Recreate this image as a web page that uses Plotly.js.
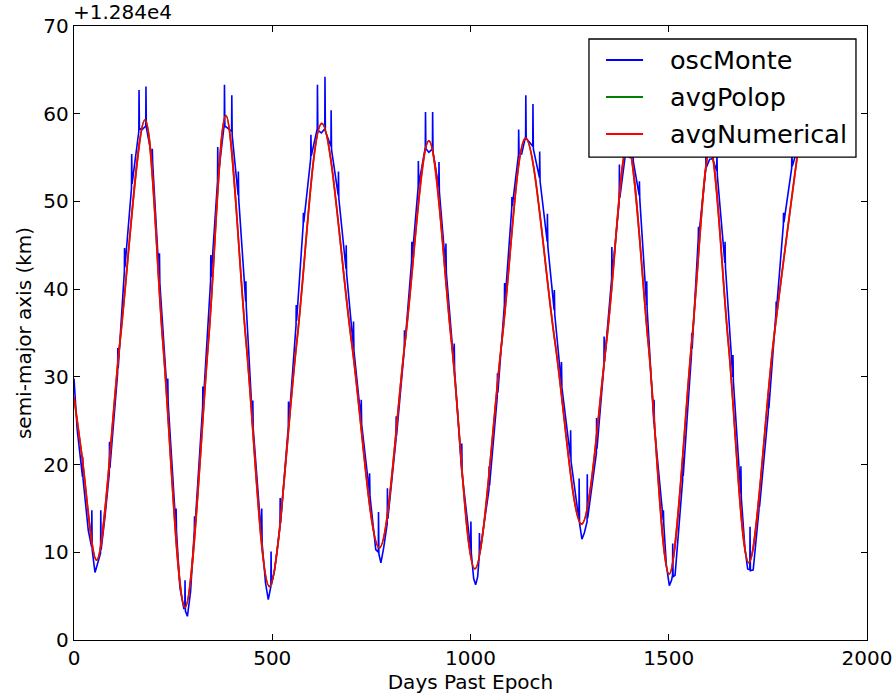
<!DOCTYPE html>
<html>
<head>
<meta charset="utf-8">
<script src="https://cdn.plot.ly/plotly-3.0.1.min.js"></script>
<style>
  html, body { margin: 0; padding: 0; background: #ffffff; }
  #chart { width: 895px; height: 696px; }
</style>
</head>
<body>
<div id="chart"></div>
<script>
// ---- Data (offset +1.284e4 km) ----
const seriesNames = ["oscMonte", "avgPolop", "avgNumerical"];
const seriesColors = ["#0000ff", "#008000", "#ff0000"];

// avgNumerical (red) key readings: day, value
const numericalDays = [0, 20, 57, 116, 179, 224, 280, 339, 383, 434, 493, 562, 625, 700, 770, 835, 895, 952, 1011, 1079, 1139, 1213, 1280, 1343, 1396, 1448, 1501, 1558, 1604, 1650, 1702, 1764, 1831];
const numericalVals = [27.7, 21.0, 9.1, 34.0, 59.3, 34.0, 3.7, 34.0, 59.8, 34.0, 6.1, 34.0, 58.9, 34.0, 10.5, 34.0, 56.9, 34.0, 8.1, 34.0, 57.2, 34.0, 13.2, 34.0, 56.5, 34.0, 7.5, 34.0, 56.0, 34.0, 8.8, 34.0, 57.5];

// avgPolop (green) readings – lies under the red curve
const polopDays = [0, 20, 57, 116, 179, 224, 280, 339, 383, 434, 493, 562, 625, 700, 770, 835, 895, 952, 1011, 1079, 1139, 1213, 1280, 1343, 1396, 1448, 1501, 1558, 1604, 1650, 1702, 1764, 1831];
const polopVals = [27.7, 21.0, 9.1, 34.0, 59.3, 34.0, 3.7, 34.0, 59.8, 34.0, 6.1, 34.0, 58.9, 34.0, 10.5, 34.0, 56.9, 34.0, 8.1, 34.0, 57.2, 34.0, 13.2, 34.0, 56.5, 34.0, 7.5, 34.0, 56.0, 34.0, 8.8, 34.0, 57.5];

// oscMonte (blue) readings: day, value
const monteDays = [
  0, 8, 21.5, 22, 23, 36, 44.5, 45, 46, 53, 61, 67, 67.5, 68.5, 78, 89, 89.5, 90.5,
  110, 110.5, 111.5, 127, 127.5, 128.5, 145, 145.5, 146.5, 163.5, 164, 165, 172,
  181, 181.5, 182.5, 197, 197.5, 198.5, 215, 215.5, 216.5, 236, 236.5, 237.5,
  257, 257.5, 258.5, 267, 277, 279.5, 280, 281, 286, 294, 303.5, 304, 305,
  324.5, 325, 326, 344.5, 345, 346, 362, 362.5, 363.5, 379, 379.5, 380.5, 389,
  397.5, 398, 399, 414, 414.5, 415.5, 433, 433.5, 434.5, 450.5, 451, 452,
  473, 473.5, 474.5, 483, 490, 496.5, 497, 498, 506, 519.5, 520, 521,
  540.5, 541, 542, 560, 560.5, 561.5, 578, 578.5, 579.5, 597, 597.5, 598.5,
  613.5, 614, 615, 624, 632.5, 633, 634, 648, 648.5, 649.5, 666.5, 667, 668,
  686, 686.5, 687.5, 704.5, 705, 706, 724, 724.5, 725.5, 745, 745.5, 746.5,
  761, 767.5, 768, 769, 774, 781, 790, 790.5, 791.5, 812, 812.5, 813.5,
  833, 833.5, 834.5, 851.5, 852, 853, 868, 868.5, 869.5, 886, 886.5, 887.5, 895,
  904, 904.5, 905.5, 920, 920.5, 921.5, 937.5, 938, 939, 958.5, 959, 960,
  977.5, 978, 979, 1000.5, 1001, 1002, 1008, 1013, 1018, 1022, 1022.5, 1023.5,
  1046.5, 1047, 1048, 1067.5, 1068, 1069, 1085.5, 1086, 1087, 1104, 1104.5, 1105.5,
  1121, 1121.5, 1122.5, 1129, 1139, 1139.5, 1140.5, 1157, 1157.5, 1158.5,
  1174, 1174.5, 1175.5, 1193.5, 1194, 1195, 1211, 1211.5, 1212.5, 1229, 1229.5, 1230.5,
  1252, 1252.5, 1253.5, 1273.5, 1274, 1275, 1281, 1287, 1294, 1294.5, 1295.5,
  1317.5, 1318, 1319, 1336.5, 1337, 1338, 1356, 1356.5, 1357.5, 1375, 1375.5, 1376.5,
  1392, 1392.5, 1393.5, 1401, 1409, 1409.5, 1410.5, 1425.5, 1426, 1427, 1444, 1444.5, 1445.5,
  1462.5, 1463, 1464, 1486, 1486.5, 1487.5, 1494, 1501.5, 1507, 1509.5, 1510, 1511, 1516,
  1535, 1535.5, 1536.5, 1557.5, 1558, 1559, 1574.5, 1575, 1576, 1593.5, 1594, 1595, 1603,
  1611, 1611.5, 1612.5, 1621, 1621.5, 1622.5, 1641.5, 1642, 1643, 1661.5, 1662, 1663,
  1681.5, 1682, 1683, 1692, 1699, 1704.5, 1705, 1706, 1713, 1720, 1727.5, 1728, 1729,
  1751, 1751.5, 1752.5, 1770.5, 1771, 1772, 1789, 1789.5, 1790.5, 1810, 1810.5, 1811.5, 1831
];
const monteVals = [
  29.8, 24.0, 18.6, 20.9, 18.3, 12.5, 10.6, 14.8, 10.2, 7.7, 9.1, 9.9, 14.8, 10.3, 14.0, 19.0, 22.6, 19.6,
  30.4, 33.3, 31.0, 42.0, 44.7, 42.5, 51.5, 55.4, 52.0, 58.0, 62.7, 58.3, 58.2,
  58.6, 63.1, 58.4, 54.9, 56.0, 54.3, 41.2, 44.1, 40.7, 27.4, 29.8, 27.0,
  12.9, 15.0, 12.4, 6.0, 3.6, 3.6, 6.8, 3.3, 2.7, 5.5, 12.5, 14.1, 12.8,
  26.6, 28.9, 27.0, 40.9, 43.9, 41.4, 52.3, 56.2, 52.8, 58.8, 63.3, 58.6, 58.3,
  58.0, 62.1, 57.5, 50.7, 53.4, 50.2, 38.6, 40.9, 38.0, 24.7, 27.3, 24.1,
  11.6, 15.0, 11.0, 6.5, 4.6, 6.1, 10.1, 6.3, 8.0, 12.9, 16.2, 13.3,
  24.3, 27.2, 24.8, 35.9, 38.2, 36.4, 47.3, 48.7, 47.6, 54.9, 57.6, 55.2,
  58.3, 63.3, 58.1, 57.8, 58.3, 64.2, 58.0, 56.3, 60.4, 55.9, 50.7, 53.4, 50.3,
  42.3, 45.0, 41.8, 33.5, 36.3, 33.0, 25.1, 27.4, 24.6, 16.9, 19.0, 16.4,
  10.3, 10.0, 14.6, 9.8, 8.8, 10.5, 13.3, 17.3, 13.8, 22.8, 25.5, 23.3,
  33.1, 35.3, 33.6, 43.2, 45.4, 43.6, 51.6, 54.6, 51.9, 56.2, 60.2, 56.0, 55.6,
  56.0, 60.2, 55.6, 51.6, 54.5, 51.1, 42.4, 45.2, 41.9, 31.2, 33.8, 30.7,
  19.4, 22.4, 18.9, 10.3, 13.5, 9.9, 7.0, 6.3, 7.2, 9.5, 12.2, 9.9,
  17.1, 19.8, 17.6, 27.7, 30.4, 28.2, 38.2, 40.7, 38.6, 49.2, 50.5, 49.5,
  55.3, 58.2, 55.5, 55.4, 57.4, 62.1, 57.2, 56.3, 61.1, 56.0,
  52.7, 55.7, 52.3, 45.4, 48.6, 44.9, 37.6, 39.9, 37.1, 29.3, 31.7, 28.8,
  20.9, 23.9, 20.4, 13.7, 18.4, 13.3, 11.5, 12.2, 13.5, 18.9, 13.9,
  21.3, 25.3, 21.8, 31.2, 34.6, 31.7, 41.2, 44.8, 41.6, 50.0, 54.2, 50.4,
  55.8, 60.5, 55.6, 55.0, 55.0, 59.5, 54.6, 50.7, 52.3, 50.2, 38.2, 40.9, 37.7,
  24.7, 27.4, 24.2, 13.7, 14.8, 13.2, 8.5, 6.2, 6.8, 7.4, 11.0, 7.2, 7.4,
  18.2, 20.9, 18.7, 32.7, 35.0, 33.2, 45.8, 47.1, 46.1, 53.8, 58.5, 53.9, 54.8,
  54.9, 59.0, 54.6, 53.5, 55.5, 53.0, 43.0, 45.4, 42.5, 30.0, 32.5, 29.5,
  16.7, 19.8, 16.2, 10.5, 8.1, 8.0, 12.9, 7.9, 8.0, 11.0, 14.8, 16.3, 15.2,
  25.9, 28.1, 26.4, 37.4, 38.6, 37.8, 47.3, 48.7, 47.6, 53.8, 56.0, 54.0, 57.0
];

// Axis ticks
const xTickVals = [0, 500, 1000, 1500, 2000];
const yTickVals = [0, 10, 20, 30, 40, 50, 60, 70];
const offsetLabel = "+1.284e4";

const traces = [
  { x: monteDays, y: monteVals, name: seriesNames[0], type: "scatter", mode: "lines",
    line: { color: seriesColors[0], width: 1.6, shape: "linear" } },
  { x: polopDays, y: polopVals, name: seriesNames[1], type: "scatter", mode: "lines",
    line: { color: seriesColors[1], width: 1.6, shape: "spline", smoothing: 1 } },
  { x: numericalDays, y: numericalVals, name: seriesNames[2], type: "scatter", mode: "lines",
    line: { color: seriesColors[2], width: 1.8, shape: "spline", smoothing: 1 } }
];

// Legend box drawn in the matplotlib style (paper coordinates)
const legBox = { x0: 0.6494, x1: 0.9861, y0: 0.7866, y1: 0.9788 };
const legRowY = [0.9446, 0.8844, 0.8241];
const legLineX = [0.6709, 0.7176];
const legTextX = 0.7491;

const shapes = [{
  type: "rect", xref: "paper", yref: "paper",
  x0: legBox.x0, x1: legBox.x1, y0: legBox.y0, y1: legBox.y1,
  fillcolor: "#ffffff", line: { color: "#000", width: 1.3 }, layer: "above"
}];
const annotations = [{
  text: offsetLabel, xref: "paper", yref: "paper", x: 0, y: 1,
  xanchor: "left", yanchor: "bottom", showarrow: false, xshift: -3, yshift: 0,
  font: { family: "DejaVu Sans", size: 20, color: "#000" }
}];
seriesNames.forEach((nm, i) => {
  shapes.push({
    type: "line", xref: "paper", yref: "paper",
    x0: legLineX[0], x1: legLineX[1], y0: legRowY[i], y1: legRowY[i],
    line: { color: seriesColors[i], width: 1.8 }, layer: "above"
  });
  annotations.push({
    text: nm, xref: "paper", yref: "paper", x: legTextX, y: legRowY[i],
    xanchor: "left", yanchor: "middle", showarrow: false,
    font: { family: "DejaVu Sans", size: 25.5, color: "#000" }
  });
});

const axisCommon = {
  showline: true, linecolor: "#000", linewidth: 1.3, mirror: "ticks",
  ticks: "inside", ticklen: 6, tickwidth: 1, tickcolor: "#000",
  showgrid: false, zeroline: false, automargin: false,
  tickfont: { family: "DejaVu Sans", size: 20, color: "#000" }
};

const layout = {
  width: 895, height: 696,
  margin: { l: 74, r: 28, t: 26, b: 56, pad: 0 },
  paper_bgcolor: "#fff", plot_bgcolor: "#fff",
  showlegend: false,
  xaxis: Object.assign({}, axisCommon, {
    range: [0, 2000], tickvals: xTickVals, ticktext: xTickVals.map(String),
    title: { text: "Days Past Epoch", font: { family: "DejaVu Sans", size: 20, color: "#000" }, standoff: 4 }
  }),
  yaxis: Object.assign({}, axisCommon, {
    range: [0, 70], tickvals: yTickVals, ticktext: yTickVals.map(String),
    title: { text: "semi-major axis (km)", font: { family: "DejaVu Sans", size: 20, color: "#000" }, standoff: 6 }
  }),
  shapes: shapes,
  annotations: annotations
};

Plotly.newPlot("chart", traces, layout, { displayModeBar: false, staticPlot: true });
</script>
</body>
</html>
